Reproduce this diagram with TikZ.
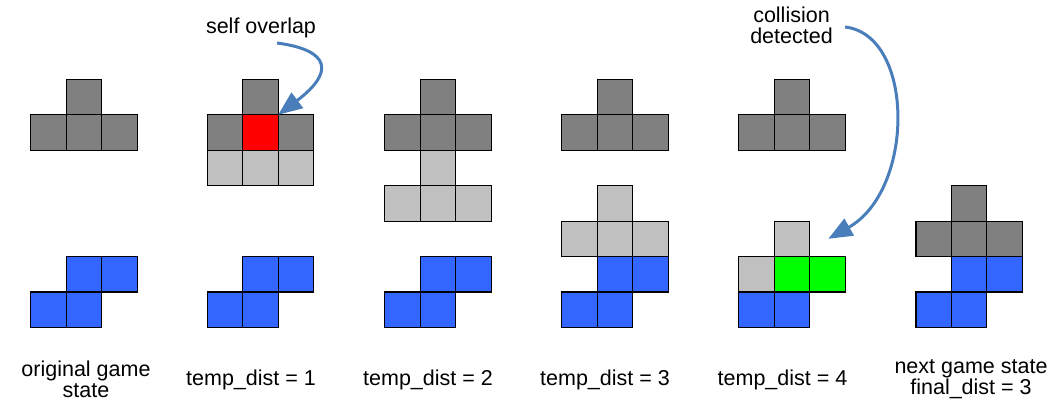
\documentclass[tikz,border=0pt]{standalone}
\usepackage{fontspec}
\setmainfont{Liberation Sans}
\usetikzlibrary{arrows.meta}
\definecolor{darkgr}{RGB}{128,128,128}
\definecolor{lightgr}{RGB}{192,192,192}
\definecolor{blk}{RGB}{51,102,255}
\definecolor{redc}{RGB}{255,0,0}
\definecolor{greenc}{RGB}{0,255,0}
\definecolor{arrowc}{RGB}{74,126,187}
\tikzset{
  cellbox/.style={draw=black, line width=1.1pt, minimum size=35.45pt, inner sep=0pt, anchor=north west, outer sep=0pt},
  dark/.style={cellbox, fill=darkgr},
  light/.style={cellbox, fill=lightgr},
  blue/.style={cellbox, fill=blk},
  red/.style={cellbox, fill=redc},
  green/.style={cellbox, fill=greenc},
  lbl/.style={font=\fontsize{21.5}{21}\selectfont, align=center, inner sep=0pt},
  callout/.style={draw=arrowc, line width=3pt, -{Triangle[length=24pt,width=19pt]}},
}
\begin{document}
\begin{tikzpicture}[x=1pt,y=-1pt]
\useasboundingbox (0,0) rectangle (1052,404);
% row tops
\def\rA{79.3}\def\rB{114.75}\def\rC{150.2}\def\rD{185.65}\def\rE{221.1}\def\rF{256.55}\def\rG{292.0}
% column 1
\def\cx{30.7}
\node[dark] (a1) at (\cx+35.45,\rA) {};
\node[dark] (a2) at (\cx,\rB) {};
\node[dark] (a3) at (\cx+35.45,\rB) {};
\node[dark] (a4) at (\cx+70.9,\rB) {};
\node[blue] (ab1) at (\cx+35.45,\rF) {};
\node[blue] (ab2) at (\cx+70.9,\rF) {};
\node[blue] (ab3) at (\cx,\rG) {};
\node[blue] (ab4) at (\cx+35.45,\rG) {};
% column 2
\def\cx{207.3}
\node[dark] (b1) at (\cx+35.45,\rA) {};
\node[dark] (b2) at (\cx,\rB) {};
\node[red] (b3) at (\cx+35.45,\rB) {};
\node[dark] (b4) at (\cx+70.9,\rB) {};
\node[light] (bl1) at (\cx,\rC) {};
\node[light] (bl2) at (\cx+35.45,\rC) {};
\node[light] (bl3) at (\cx+70.9,\rC) {};
\node[blue] (bb1) at (\cx+35.45,\rF) {};
\node[blue] (bb2) at (\cx+70.9,\rF) {};
\node[blue] (bb3) at (\cx,\rG) {};
\node[blue] (bb4) at (\cx+35.45,\rG) {};
% column 3
\def\cx{384.7}
\node[dark] (c1) at (\cx+35.45,\rA) {};
\node[dark] (c2) at (\cx,\rB) {};
\node[dark] (c3) at (\cx+35.45,\rB) {};
\node[dark] (c4) at (\cx+70.9,\rB) {};
\node[light] (cl1) at (\cx+35.45,\rC) {};
\node[light] (cl2) at (\cx,\rD) {};
\node[light] (cl3) at (\cx+35.45,\rD) {};
\node[light] (cl4) at (\cx+70.9,\rD) {};
\node[blue] (cb1) at (\cx+35.45,\rF) {};
\node[blue] (cb2) at (\cx+70.9,\rF) {};
\node[blue] (cb3) at (\cx,\rG) {};
\node[blue] (cb4) at (\cx+35.45,\rG) {};
% column 4
\def\cx{561.7}
\node[dark] (d1) at (\cx+35.45,\rA) {};
\node[dark] (d2) at (\cx,\rB) {};
\node[dark] (d3) at (\cx+35.45,\rB) {};
\node[dark] (d4) at (\cx+70.9,\rB) {};
\node[light] (dl1) at (\cx+35.45,\rD) {};
\node[light] (dl2) at (\cx,\rE) {};
\node[light] (dl3) at (\cx+35.45,\rE) {};
\node[light] (dl4) at (\cx+70.9,\rE) {};
\node[blue] (db1) at (\cx+35.45,\rF) {};
\node[blue] (db2) at (\cx+70.9,\rF) {};
\node[blue] (db3) at (\cx,\rG) {};
\node[blue] (db4) at (\cx+35.45,\rG) {};
% column 5
\def\cx{738.7}
\node[dark] (e1) at (\cx+35.45,\rA) {};
\node[dark] (e2) at (\cx,\rB) {};
\node[dark] (e3) at (\cx+35.45,\rB) {};
\node[dark] (e4) at (\cx+70.9,\rB) {};
\node[light] (el1) at (\cx+35.45,\rE) {};
\node[light] (el2) at (\cx,\rF) {};
\node[green] (eg1) at (\cx+35.45,\rF) {};
\node[green] (eg2) at (\cx+70.9,\rF) {};
\node[blue] (eb3) at (\cx,\rG) {};
\node[blue] (eb4) at (\cx+35.45,\rG) {};
% column 6
\def\cx{916}
\node[dark] (f1) at (\cx+35.45,\rD) {};
\node[dark] (f2) at (\cx,\rE) {};
\node[dark] (f3) at (\cx+35.45,\rE) {};
\node[dark] (f4) at (\cx+70.9,\rE) {};
\node[blue] (fb1) at (\cx+35.45,\rF) {};
\node[blue] (fb2) at (\cx+70.9,\rF) {};
\node[blue] (fb3) at (\cx,\rG) {};
\node[blue] (fb4) at (\cx+35.45,\rG) {};
% labels
\node[lbl] (t1) at (86,379) {original game\\state};
\node[lbl] (t2) at (251,380) {temp\_dist = 1};
\node[lbl] (t3) at (428,380) {temp\_dist = 2};
\node[lbl] (t4) at (605,380) {temp\_dist = 3};
\node[lbl] (t5) at (782.5,380) {temp\_dist = 4};
\node[lbl] (t6) at (971,379) {next game state\\final\_dist = 3};
\node[lbl, anchor=base] (so) at (261,33.3) {self overlap};
\node[lbl] (cd) at (791.5,25) {collision\\detected};
% callout arrows
\coordinate (soS) at (277,43);
\coordinate (cdS) at (845,27);
\coordinate (cdE) at ([xshift=18.7pt]el1.east);
\draw[callout] (soS) .. controls (330,50) and (335,72) .. (b3.north east);
\draw[callout] (cdS) .. controls (915,35) and (915,190) .. (cdE);
\end{tikzpicture}
\end{document}
